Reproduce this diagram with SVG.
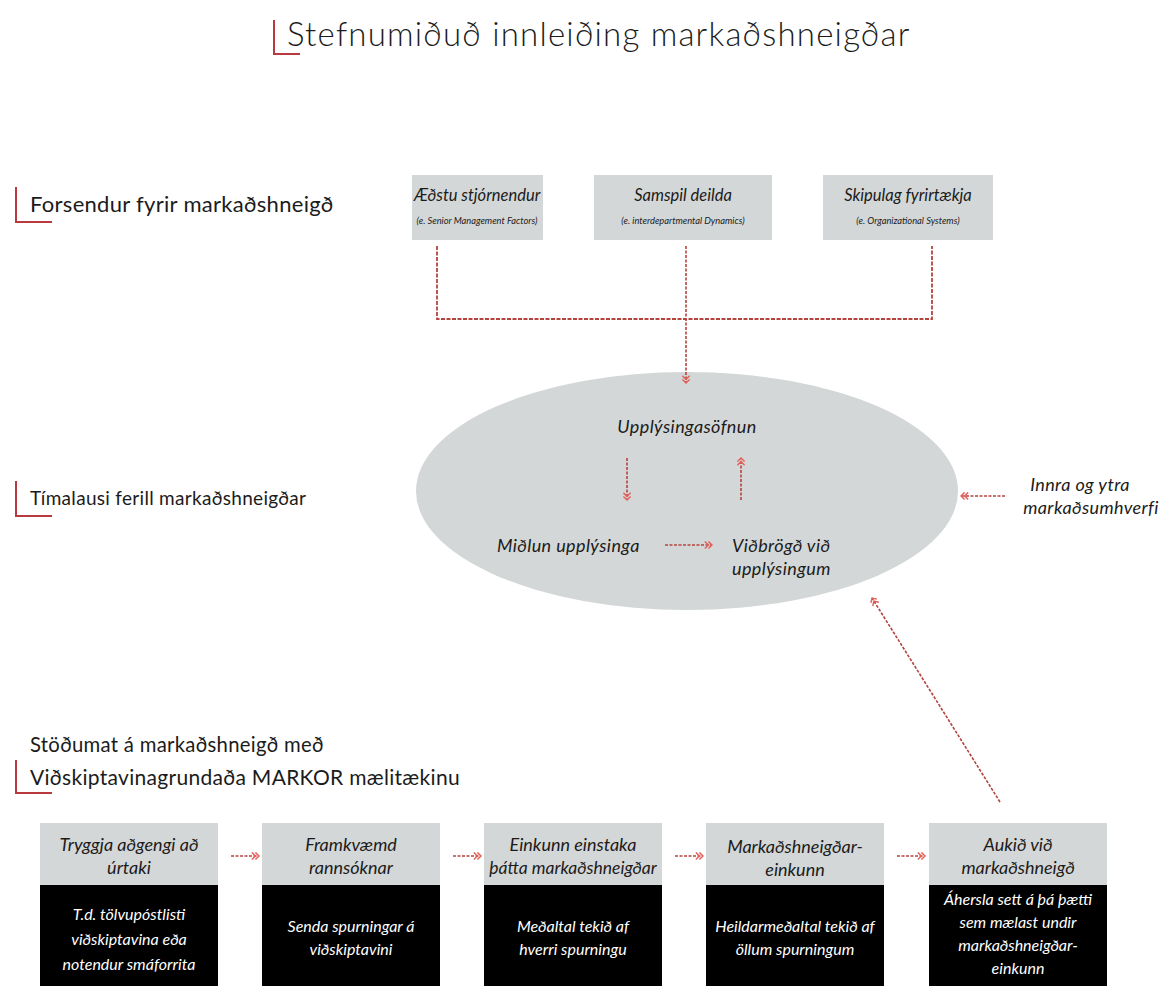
<svg xmlns="http://www.w3.org/2000/svg" width="1160" height="986" viewBox="0 0 1160 986">
<defs>
<marker id="chev" viewBox="0 0 10 10" refX="9" refY="5" markerWidth="9" markerHeight="9" markerUnits="userSpaceOnUse" orient="auto">
<path d="M1,1 L5,5 L1,9 M5,1 L9,5 L5,9" fill="none" stroke="#e4605a" stroke-width="1.6"/>
</marker>
<style>
text{font-family:Lato,"Open Sans","Liberation Sans",sans-serif;fill:#1b1b1b}
.title{font-size:33px;font-weight:300;letter-spacing:1.2px}
.sec{font-size:19px;letter-spacing:0.3px}
.bt{font-size:18px;font-style:italic;text-anchor:middle}
.tt{font-size:16.5px;font-style:italic;text-anchor:middle}
.bs{font-size:9.3px;font-style:italic;text-anchor:middle}
.el{font-size:18px;font-style:italic;letter-spacing:0.4px}
.wt{font-size:16px;font-style:italic;text-anchor:middle;fill:#ffffff}
.gray{fill:#d4d7d7}
.blk{fill:#000000}
.brk{fill:none;stroke:#b83a3f;stroke-width:2}
.con{fill:none;stroke:#b5443f;stroke-width:1.8;stroke-dasharray:4 1.5}
.arr{fill:none;stroke:#b5443f;stroke-width:1.6;stroke-dasharray:3 1.5;marker-end:url(#chev)}
</style>
</defs>
<rect width="1160" height="986" fill="#ffffff"/>

<g id="title">
<path class="brk" d="M274,20 V54 H300"/>
<text class="title" x="287" y="46">Stefnumiðuð innleiðing markaðshneigðar</text>
</g>

<g id="sec1">
<path class="brk" d="M16,187 V222 H52"/>
<text class="sec" x="30" y="212" style="font-size:22px">Forsendur fyrir markaðshneigð</text>
</g>
<g id="sec2">
<path class="brk" d="M16,481 V516 H52"/>
<text class="sec" x="30" y="505">Tímalausi ferill markaðshneigðar</text>
</g>
<g id="sec3">
<path class="brk" d="M16,760 V793 H52"/>
<text class="sec" x="30" y="752" style="font-size:20.3px">Stöðumat á markaðshneigð með</text>
<text class="sec" x="30" y="785" style="font-size:21px">Viðskiptavinagrundaða MARKOR mælitækinu</text>
</g>

<g id="top1">
<rect class="gray" x="412" y="175" width="131" height="65"/>
<text class="tt" x="477" y="201">Æðstu stjórnendur</text>
<text class="bs" x="477" y="224">(e. Senior Management Factors)</text>
</g>
<g id="top2">
<rect class="gray" x="594" y="175" width="178" height="65"/>
<text class="tt" x="683" y="201">Samspil deilda</text>
<text class="bs" x="683" y="224">(e. interdepartmental Dynamics)</text>
</g>
<g id="top3">
<rect class="gray" x="823" y="175" width="170" height="65"/>
<text class="tt" x="908" y="201">Skipulag fyrirtækja</text>
<text class="bs" x="908" y="224">(e. Organizational Systems)</text>
</g>

<g id="cycle">
<ellipse cx="687" cy="491" rx="271" ry="119" fill="#d4d7d7"/>
<text class="el" x="687" y="433" text-anchor="middle">Upplýsingasöfnun</text>
<text class="el" x="497" y="552">Miðlun upplýsinga</text>
<text class="el" x="732" y="552">Viðbrögð við</text>
<text class="el" x="732" y="575">upplýsingum</text>
</g>

<g id="env">
<text class="el" x="1080" y="491" text-anchor="middle">Innra og ytra</text>
<text class="el" x="1091" y="514" text-anchor="middle">markaðsumhverfi</text>
</g>

<g id="b1">
<rect class="gray" x="40" y="823" width="178" height="62"/>
<rect class="blk" x="40" y="885" width="178" height="101"/>
<text class="bt" x="129" y="851">Tryggja aðgengi að</text>
<text class="bt" x="129" y="874">úrtaki</text>
<text class="wt" x="129" y="920">T.d. tölvupóstlisti</text>
<text class="wt" x="129" y="945">viðskiptavina eða</text>
<text class="wt" x="129" y="970">notendur smáforrita</text>
</g>
<g id="b2">
<rect class="gray" x="262" y="823" width="178" height="62"/>
<rect class="blk" x="262" y="885" width="178" height="101"/>
<text class="bt" x="351" y="851">Framkvæmd</text>
<text class="bt" x="351" y="874">rannsóknar</text>
<text class="wt" x="351" y="932">Senda spurningar á</text>
<text class="wt" x="351" y="955">viðskiptavini</text>
</g>
<g id="b3">
<rect class="gray" x="484" y="823" width="178" height="62"/>
<rect class="blk" x="484" y="885" width="178" height="101"/>
<text class="bt" x="573" y="851">Einkunn einstaka</text>
<text class="bt" x="573" y="874" style="font-size:17.5px">þátta markaðshneigðar</text>
<text class="wt" x="573" y="932">Meðaltal tekið af</text>
<text class="wt" x="573" y="955">hverri spurningu</text>
</g>
<g id="b4">
<rect class="gray" x="706" y="823" width="178" height="62"/>
<rect class="blk" x="706" y="885" width="178" height="101"/>
<text class="bt" x="795" y="853">Markaðshneigðar-</text>
<text class="bt" x="795" y="876">einkunn</text>
<text class="wt" x="795" y="932">Heildarmeðaltal tekið af</text>
<text class="wt" x="795" y="955">öllum spurningum</text>
</g>
<g id="b5">
<rect class="gray" x="929" y="823" width="178" height="62"/>
<rect class="blk" x="929" y="885" width="178" height="101"/>
<text class="bt" x="1018" y="851">Aukið við</text>
<text class="bt" x="1018" y="874">markaðshneigð</text>
<text class="wt" x="1018" y="905">Áhersla sett á þá þætti</text>
<text class="wt" x="1018" y="928">sem mælast undir</text>
<text class="wt" x="1018" y="951">markaðshneigðar-</text>
<text class="wt" x="1018" y="974">einkunn</text>
</g>

<g id="connectors">
<path class="con" d="M437,246 V319 H932 V246"/>
<path class="arr" d="M686,246 V383"/>
<path class="arr" d="M627,458 V500"/>
<path class="arr" d="M741,500 V458"/>
<path class="arr" d="M665,545 H712"/>
<path class="arr" d="M1005,496 H961"/>
<path class="arr" d="M1000,802 L872,598"/>
<path class="arr" d="M231,856 H259"/>
<path class="arr" d="M453,856 H481"/>
<path class="arr" d="M675,856 H703"/>
<path class="arr" d="M897,856 H925"/>
</g>
</svg>
